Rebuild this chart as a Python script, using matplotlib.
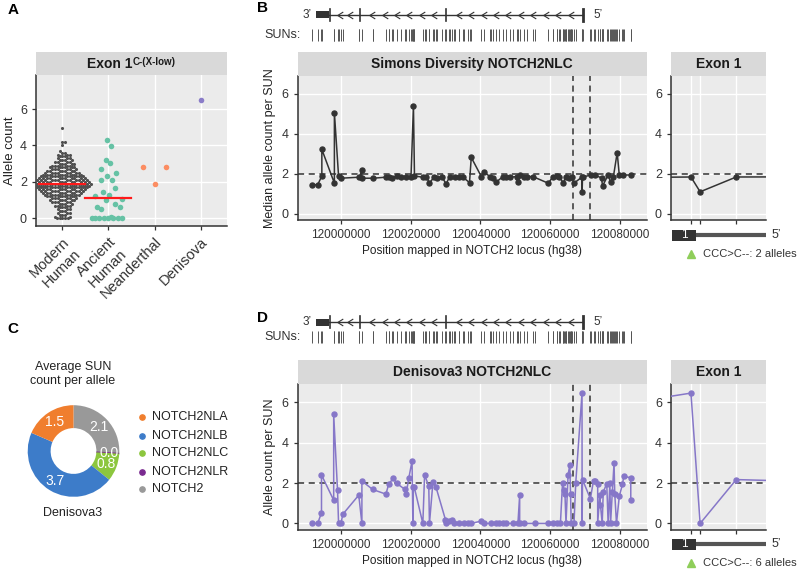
import numpy as np
import matplotlib
matplotlib.use('Agg')
import matplotlib.pyplot as plt
from matplotlib.path import Path
from matplotlib.patches import Rectangle

plt.rcParams['font.family'] = ['Liberation Sans', 'DejaVu Sans']

# ---------------- data ----------------
# panel A: allele count per individual (exon 1 C-(X-low))
groups = ['Modern\nHuman', 'Ancient\nHuman', 'Neanderthal', 'Denisova']
group_colors = ['#505050', '#66c2a5', '#fc8d62', '#8a7cc8']
modern_levels = [0.0, 0.1, 0.2, 0.3, 0.4, 0.5, 0.6, 0.7, 0.8, 0.9,
                 1.0, 1.1, 1.2, 1.3, 1.4, 1.5, 1.6, 1.7, 1.8, 1.9,
                 2.0, 2.1, 2.2, 2.3, 2.4, 2.5, 2.6, 2.7, 2.8, 2.9,
                 3.0, 3.1, 3.2, 3.3, 3.4, 3.5, 3.6, 3.7, 4.0, 4.2, 4.95]
modern_counts = [5, 2, 3, 3, 3, 3, 3, 4, 4, 5,
                 6, 6, 7, 8, 9, 10, 11, 12, 13, 14,
                 13, 12, 11, 10, 9, 8, 7, 6, 6, 5,
                 5, 4, 4, 3, 3, 3, 2, 1, 1, 2, 1]
ancient_vals = [4.30, 3.97, 3.21, 3.06, 2.73, 2.47, 2.34, 2.09, 2.09, 1.68,
                1.43, 1.28, 1.23, 1.04, 1.01, 0.79, 0.64, 0.62, 0.49, 0.10,
                0, 0, 0, 0, 0, 0, 0, 0]
neand_vals = [2.80, 2.84, 1.89]
deni_vals = [6.5]
median_vals = [1.9, 1.1]

# panel B: Simons Diversity, median allele count per SUN
b_pos = [119991800, 119993300, 119994500, 119994500, 119998100, 119998100, 119999300,
         120000000, 120005300, 120006000, 120006000, 120009300, 120012900, 120013800,
         120014500, 120016000, 120017300, 120018700, 120020100, 120020800, 120021100,
         120023500, 120024500, 120025400, 120026800, 120027500, 120029000, 120030200,
         120031200, 120032600, 120033800, 120035000, 120036900, 120037400, 120040300,
         120041200, 120042700, 120043500, 120044600, 120046500, 120047500, 120048500,
         120050400, 120050800, 120051300, 120052500, 120053500, 120055100, 120059500,
         120060900, 120061900, 120062700, 120063800, 120064700, 120065600, 120066200,
         120066900, 120069203, 120069232, 120069346, 120071900, 120072900, 120074800,
         120075100, 120076700, 120077400, 120078200, 120079300, 120079900, 120081000,
         120083300]
b_val = [1.46, 1.46, 1.90, 3.23, 1.54, 5.07, 1.90,
         1.79, 1.84, 2.20, 1.79, 1.79, 1.84, 1.87,
         1.80, 1.90, 1.87, 1.84, 1.87, 5.39, 1.90,
         1.84, 1.87, 1.54, 1.87, 1.80, 1.84, 1.51,
         1.87, 1.87, 1.84, 1.84, 1.57, 2.83, 1.87,
         2.10, 1.87, 1.80, 1.60, 1.87, 1.87, 1.84,
         1.87, 1.60, 1.94, 1.84, 1.87, 1.87, 1.54,
         1.87, 1.90, 1.84, 1.57, 1.87, 1.80, 1.87,
         1.54, 1.85, 1.11, 1.85, 1.95, 1.95, 1.80,
         1.40, 1.95, 1.60, 1.85, 3.07, 1.95, 1.95,
         1.95]

# panel D: Denisova3 allele count per SUN
d_pos = [119991800, 119993300, 119994400, 119994400, 119997900, 119997900, 119999000,
         119999300, 120000000, 120000500, 120005100, 120006000, 120006000, 120009100,
         120012900, 120013700, 120015000, 120016000, 120018400, 120018700, 120019500,
         120020400, 120020600, 120020800, 120021000, 120023500, 120024000, 120025200,
         120025400, 120026400, 120027300, 120030000, 120030200, 120031000, 120031900,
         120032500, 120034000, 120035200, 120036400, 120037400, 120040300, 120041200,
         120043000, 120044600, 120045500, 120046500, 120047500, 120049400, 120050800,
         120051300, 120051300, 120052500, 120055600, 120059500, 120061000, 120062000,
         120063000, 120063600, 120064000, 120064300, 120064600, 120065200, 120065700,
         120065900, 120066100, 120066900, 120067400, 120069203, 120069232, 120069346,
         120071600, 120072500, 120072900, 120073700, 120073700, 120074300, 120074500,
         120075000, 120075300, 120076300, 120076700, 120077200, 120077400, 120077900,
         120078400, 120078600, 120079100, 120079900, 120080800, 120081200, 120083200,
         120083200]
d_val = [0, 0, 0.53, 2.40, 1.15, 5.40, 1.65,
         0, 0, 0.45, 1.40, 0, 2.10, 1.68,
         1.45, 1.95, 2.23, 1.98, 1.68, 1.48, 2.27,
         3.10, 0, 1.82, 1.82, 0, 2.40, 1.85,
         0, 2.05, 1.78, 0.18, 0, 0.10, 0.18,
         0, 0, 0, 0.03, 0, 0.12, 0,
         0, 0, 0, 0, 0, 0, 0,
         1.40, 0, 0, 0, 0, 0, 0,
         0, 1.98, 1.65, 1.48, 0, 2.40, 2.90,
         1.48, 0, 0, 2.00, 6.45, 0.00, 2.17,
         1.22, 2.12, 2.10, 1.97, 0, 1.40, 0.90,
         0, 1.56, 1.97, 0, 2.00, 0, 1.56,
         2.98, 1.48, 0, 1.34, 1.93, 2.33, 2.26,
         1.15]

main_xlim = (119987510, 120087860)
main_xticks = [120000000, 120020000, 120040000, 120060000, 120080000]
region_bounds = [120066600, 120071600]
exon_xlim = (120069140, 120069440)
exon_pos = [120069203, 120069232, 120069346]
variant_alleles = [2, 6]

# gene model (NOTCH2NLC, minus strand)
utr_box = (119992806, 119996633)
exon_marks = [119996920, 120005470, 120030220, 120069530]

# panel C: average SUN count per allele, Denisova3
c_names = ['NOTCH2NLA', 'NOTCH2NLB', 'NOTCH2NLC', 'NOTCH2NLR', 'NOTCH2']
c_vals = [1.5, 3.7, 0.8, 0.0, 2.1]
c_colors = ['#f07e2e', '#3d7cc9', '#8cc63e', '#7a2a90', '#999999']

# ---------------- helpers ----------------
W, H = 800, 570
fig = plt.figure(figsize=(8, 5.7), dpi=100)
BG, STRIP, DARK = '#ebebeb', '#d9d9d9', '#333333'


def px_axes(l, t, r, b):
    return fig.add_axes([l / W, 1 - b / H, (r - l) / W, (b - t) / H])


def style_panel(ax):
    ax.set_facecolor(BG)
    for s in ['top', 'right']:
        ax.spines[s].set_visible(False)
    for s in ['left', 'bottom']:
        ax.spines[s].set_color(DARK)
        ax.spines[s].set_linewidth(1.1)
    ax.grid(True, color='white', lw=1.0)
    ax.set_axisbelow(True)
    ax.tick_params(color=DARK, length=3, width=0.9, labelsize=9, labelcolor='#333333')


def strip(l, t, r, b, text=None):
    s = px_axes(l, t, r, b)
    s.set_facecolor(STRIP)
    s.set_xticks([]); s.set_yticks([])
    for sp in s.spines.values():
        sp.set_visible(False)
    if text:
        s.text(0.5, 0.5, text, transform=s.transAxes, ha='center', va='center',
               fontsize=10, fontweight='bold', color='#1a1a1a')
    return s


def swarm_offsets(vals, d, ypx, xpx):
    # greedy beeswarm in pixel space
    vals = np.asarray(vals, float)
    order = np.argsort(vals, kind='stable')
    px, py = [], []
    out = np.zeros(len(vals))
    for i in order:
        y = vals[i] * ypx
        near = [(xo, yo) for xo, yo in zip(px, py) if abs(yo - y) < d]
        cands = [0.0]
        for xo, yo in near:
            dx = np.sqrt(d * d - (yo - y) ** 2)
            cands += [xo + dx, xo - dx]
        cands.sort(key=lambda c: (abs(c), c < 0))
        for c in cands:
            if all((c - xo) ** 2 + (y - yo) ** 2 >= d * d - 1e-6 for xo, yo in near):
                break
        px.append(c); py.append(y)
        out[i] = c / xpx
    return out


def vdc(n, base=2):
    v, denom = 0.0, 1.0
    while n:
        n, r = divmod(n, base)
        denom *= base
        v += r / denom
    return v


def quasi_offsets(vals, width, bw=0.5):
    # quasirandom (van der Corput) spread scaled by density
    vals = np.asarray(vals, float)
    diff = vals[:, None] - vals[None, :]
    dens = np.exp(-0.5 * (diff / bw) ** 2).sum(axis=1)
    dens = dens / dens.max()
    ranks = np.argsort(np.argsort(vals, kind='stable'), kind='stable') + 1
    return np.array([(2 * vdc(r) - 1) * width * dn for r, dn in zip(ranks, dens)])


# ---------------- panel A ----------------
axA = px_axes(36, 75, 227, 226)
style_panel(axA)
strip(36, 52, 227, 75)
modern_vals = np.repeat(modern_levels, modern_counts)
xpx, ypx = 46.0, 18.2
axA.scatter(1 + swarm_offsets(modern_vals, 2.7, ypx, xpx), modern_vals, s=5,
            color=group_colors[0], lw=0, zorder=3)
for k, (vals, w) in enumerate([(ancient_vals, 0.42), (neand_vals, 0.5), (deni_vals, 0.4)]):
    axA.scatter(k + 2 + quasi_offsets(vals, w), vals, s=16, color=group_colors[k + 1], lw=0, zorder=3)
for k, m in enumerate(median_vals):
    axA.plot([k + 0.5, k + 1.5], [m, m], color='#ff1a1a', lw=1.6, zorder=4)
axA.set_xlim(0.43, 4.57)
axA.set_ylim(-0.42, 7.87)
axA.set_yticks([0, 2, 4, 6])
axA.set_xticks([1, 2, 3, 4])
axA.set_xticklabels(groups, rotation=45, ha='right', va='top', rotation_mode='anchor', fontsize=10.5)
axA.set_ylabel('Allele count', fontsize=9.5, color='#222222', labelpad=3)

# ---------------- panels B and D ----------------
sun_pos = sorted(set(b_pos) | set(d_pos))


def locus_panel(pos, vals, color, ylabel, title, strip_top, ax_top, ax_bot,
                gene_y, sun_y0, sun_y1, alleles):
    ax = px_axes(297.5, ax_top, 647, ax_bot)
    style_panel(ax)
    strip(297.5, strip_top, 647, ax_top, title)
    ax.axhline(2, color=DARK, lw=1.1, ls=(0, (4, 3)), zorder=2)
    for xb in region_bounds:
        ax.axvline(xb, color=DARK, lw=1.1, ls=(0, (4, 3)), zorder=2)
    ax.plot(pos, vals, '-o', color=color, ms=3.6, lw=1.1, zorder=3)
    ax.set_xlim(*main_xlim)
    ax.set_ylim(-0.3, 6.9)
    ax.set_yticks([0, 2, 4, 6])
    ax.set_xticks(main_xticks)
    ax.set_xticklabels([str(t) for t in main_xticks], fontsize=8.5)
    ax.set_xlabel('Position mapped in NOTCH2 locus (hg38)', fontsize=8.5, color='#222222', labelpad=3)
    ax.set_ylabel(ylabel, fontsize=9, color='#222222', labelpad=4)

    # exon 1 zoom
    ex = px_axes(671, ax_top, 766, ax_bot)
    style_panel(ex)
    strip(671, strip_top, 766, ax_top, 'Exon 1')
    ex.axhline(2, color=DARK, lw=1.1, ls=(0, (4, 3)), zorder=2)
    ex.plot(pos, vals, '-o', color=color, ms=3.6, lw=1.1, zorder=3)
    ex.set_xlim(*exon_xlim)
    ex.set_ylim(-0.3, 6.9)
    ex.set_yticks([0, 2, 4, 6])
    ex.set_xticks(exon_pos)
    ex.set_xticklabels([])

    # gene model + SUN track
    tr = px_axes(297.5, gene_y - 12, 647, sun_y1 + 3)
    tr.set_xlim(*main_xlim)
    tr.set_ylim(sun_y1 + 3, gene_y - 12)
    tr.axis('off')
    tr.plot([utr_box[1], exon_marks[-1]], [gene_y, gene_y], color=DARK, lw=1.0)
    tr.add_patch(Rectangle((utr_box[0], gene_y - 3.3), utr_box[1] - utr_box[0], 6.6, color=DARK, lw=0))
    for j, xm in enumerate(exon_marks):
        lw = 2.0 if j == len(exon_marks) - 1 else 1.2
        tr.plot([xm, xm], [gene_y - 6, gene_y + 6], color=DARK, lw=lw)
    chev = Path([(0.4, 0.5), (-0.4, 0.0), (0.4, -0.5)], [Path.MOVETO, Path.LINETO, Path.LINETO])
    for a, b in zip(exon_marks[:-1], exon_marks[1:]):
        n = int((b - a) / 3900)
        cx = np.linspace(a, b, n + 2)[1:-1]
        tr.plot(cx, [gene_y] * len(cx), ls='none', marker=chev, ms=5, mfc='none', mec=DARK, mew=0.8)
    tr.vlines(sun_pos, sun_y0, sun_y1, color='#555555', lw=0.7)

    # exon schematic under zoom
    sc = px_axes(671, ax_bot + 2, 766, ax_bot + 42)
    sc.set_xlim(*exon_xlim)
    sc.set_ylim(ax_bot + 42, ax_bot + 2)
    sc.axis('off')
    by = ax_bot + 15
    sc.plot([exon_pos[0], exon_xlim[1]], [by, by], color='#555555', lw=3.0,
            solid_capstyle='butt', zorder=1)
    sc.add_patch(Rectangle((exon_xlim[0] + 3, by - 5.5), 77, 11, color=DARK, lw=0, zorder=3))
    sc.text(exon_xlim[0] + 41, by, '1', color='white', ha='center', va='center', fontsize=8.5, zorder=4)
    sc.plot([exon_pos[0]], [by + 19], marker='^', color='#8fce5a', ms=5.5)
    sc.annotate(f'CCC>C--: {alleles} alleles', (exon_pos[0], by + 19), xytext=(8.5, 0),
                textcoords='offset points', ha='left', va='center', fontsize=8, color='#333333',
                annotation_clip=False)
    sc.annotate('5\u2019', (exon_xlim[1], by), xytext=(4, 0), textcoords='offset points',
                ha='left', va='center', fontsize=9, color='#333333', annotation_clip=False)
    return ax


locus_panel(b_pos, b_val, '#333333', 'Median allele count per SUN', 'Simons Diversity NOTCH2NLC',
            52, 76, 220, 14.7, 29.5, 41.5, variant_alleles[0])
locus_panel(d_pos, d_val, '#8677c8', 'Allele count per SUN', 'Denisova3 NOTCH2NLC',
            360, 384, 529.5, 322.3, 330.7, 343.3, variant_alleles[1])

# ---------------- panel C ----------------
axC = px_axes(27.7, 405.2, 119.3, 496.8)
order = [4, 3, 2, 1, 0]
total = sum(c_vals)
wedges, _, autotexts = axC.pie([c_vals[i] for i in order], colors=[c_colors[i] for i in order],
                               startangle=90, counterclock=False, radius=1,
                               wedgeprops=dict(width=0.5, lw=0),
                               autopct=lambda p: f'{p * total / 100:.1f}', pctdistance=0.77,
                               textprops=dict(color='white', fontsize=10))
wedges[1].set_edgecolor(c_colors[3])
wedges[1].set_linewidth(1.2)
axC.set_xlim(-1, 1); axC.set_ylim(-1, 1)

# ---------------- overlay texts ----------------
ov = fig.add_axes([0, 0, 1, 1], facecolor='none')
ov.set_xlim(0, W); ov.set_ylim(H, 0); ov.axis('off')
for lab, (x, y) in zip('ABCD', [(13, 10), (263, 8), (13, 329), (262.5, 317.5)]):
    ov.text(x, y, lab, ha='center', va='center', fontsize=11, fontweight='bold', color='black')
ov.text(132.5, 63.5, 'Exon 1', ha='right', va='center', fontsize=10, fontweight='bold', color='#1a1a1a')
ov.text(133, 57, 'C-(X-low)', ha='left', va='top', fontsize=7, fontweight='bold', color='#1a1a1a')
for gy, sy in [(14.7, 35), (322.3, 336.7)]:
    ov.text(301, sy, 'SUNs:', ha='right', va='center', fontsize=9, color='#333333')
    ov.text(307, gy, '3\u2019', ha='center', va='center', fontsize=8.5, color='#333333')
    ov.text(593, gy, '5\u2019', ha='left', va='center', fontsize=8.5, color='#333333')
ov.text(73, 374, 'Average SUN\ncount per allele', ha='center', va='center', fontsize=9,
        color='#222222', linespacing=1.25)
ov.text(73, 513, 'Denisova3', ha='center', va='center', fontsize=9, color='#222222')
leg_y = [416.7, 435.7, 453.3, 471.7, 489.3]
for name, col, ly in zip(c_names, c_colors, leg_y):
    ov.plot([141.7], [ly], 'o', color=col, ms=3.8)
    ov.text(151.7, ly, name, ha='left', va='center', fontsize=9, color='#222222')

fig.savefig('out.png', dpi=100)
